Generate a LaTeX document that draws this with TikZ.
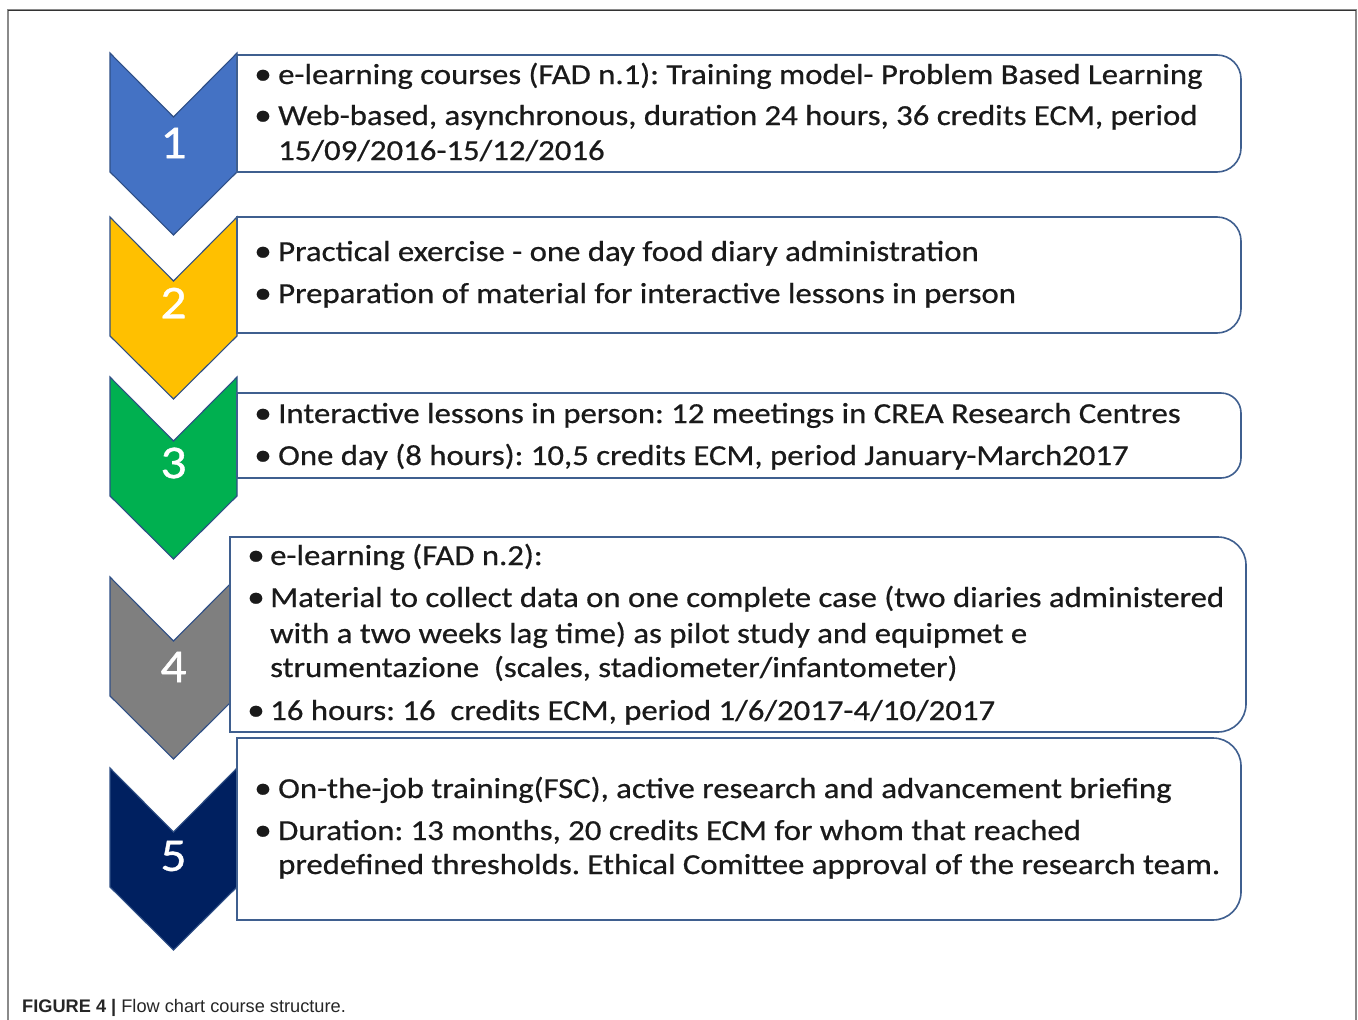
\documentclass[tikz,border=0pt]{standalone}
\usepackage{fontspec}
\setmainfont{Carlito}
\newfontfamily\bodyfont[FakeStretch=1.13,FakeBold=0.6]{Carlito}
\newfontfamily\numfont[FakeStretch=1.1,FakeBold=0.8]{Carlito}
\newfontfamily\capfont{Liberation Sans}
\frenchspacing
\begin{document}
\begin{tikzpicture}[x=1pt,y=-1pt,
  chev/.style={draw=chevedge,line width=1.1pt,line join=miter},
  panel/.style={draw=paneledge,line width=1.6pt,fill=white},
  num/.style={text=white,font=\numfont\fontsize{47}{47}\selectfont,inner sep=0pt,anchor=center},
  bl/.style={text=txt,font=\bodyfont\fontsize{29}{29}\selectfont,inner sep=0pt,anchor=base west},
  dot/.style={text=txt,font=\bodyfont\fontsize{31}{31}\selectfont,inner sep=0pt,anchor=base}]
\definecolor{chevedge}{HTML}{2F4F86}
\definecolor{paneledge}{HTML}{3F5F8F}
\definecolor{txt}{HTML}{1A1A1A}
\definecolor{cblue}{HTML}{4472C4}
\definecolor{cgold}{HTML}{FFC000}
\definecolor{cgreen}{HTML}{00B050}
\definecolor{cgray}{HTML}{7F7F7F}
\definecolor{cnavy}{HTML}{002060}
\definecolor{framegray}{HTML}{8A8A8A}

\useasboundingbox (0,0) rectangle (1358,1020);
\fill[white] (0,0) rectangle (1358,1020);

% outer frame (open at the bottom)
\draw[framegray,line width=2pt] (8,1020) -- (8,10) -- (1356,10) -- (1356,1020);
\draw[black!80,line width=1pt] (8,10) -- (1356,10);

% chevrons: top y given, 127 wide, 119 high sides, 45-degree notch and tip
\newcommand{\chevron}[2]{%
  \draw[chev,fill=#2] (110,#1) -- (173.5,#1+64) -- (237,#1) -- (237,#1+119)
    -- (173.5,#1+182) -- (110,#1+119) -- cycle;}
% panels: left x, top y, right x, bottom y, corner radius (right side only)
\newcommand{\panelbox}[5]{%
  \draw[panel] (#1,#4) -- (#1,#2) -- (#3-#5,#2)
    arc[start angle=-90,end angle=0,radius=#5] -- (#3,#4-#5)
    arc[start angle=0,end angle=90,radius=#5] -- cycle;}

\chevron{53}{cblue}
\panelbox{237}{55}{1241}{172}{24}
\chevron{217}{cgold}
\panelbox{237}{217}{1241}{333}{24}
\chevron{377}{cgreen}
\panelbox{237}{393}{1241}{478}{20}
\chevron{577}{cgray}
\panelbox{230}{537}{1246}{732}{28}
\chevron{768}{cnavy}
\panelbox{237}{738}{1241}{920}{28}

% step numbers
\node[num] (n1) at (173.5,143) {1};
\node[num] (n2) at (173.5,303) {2};
\node[num] (n3) at (173.5,463) {3};
\node[num] (n4) at (173.5,667) {4};
\node[num] (n5) at (173.5,856) {5};

% panel 1
\node[dot] (d11) at (263,84) {•};
\node[bl] (t11) at (278,84) {e-learning courses (FAD n.1): Training model- Problem Based Learning};
\node[dot] (d12) at (263,125) {•};
\node[bl] (t12) at (278,125) {Web-based, asynchronous, duration 24 hours, 36 credits ECM, period};
\node[bl] (t13) at (278,160) {15/09/2016-15/12/2016};

% panel 2
\node[dot] (d21) at (263,261) {•};
\node[bl] (t21) at (278,261) {Practical exercise - one day food diary administration};
\node[dot] (d22) at (263,303) {•};
\node[bl] (t22) at (278,303) {Preparation of material for interactive lessons in person};

% panel 3
\node[dot] (d31) at (263,423) {•};
\node[bl] (t31) at (278,423) {Interactive lessons in person: 12 meetings in CREA Research Centres};
\node[dot] (d32) at (263,465) {•};
\node[bl] (t32) at (278,465) {One day (8 hours): 10,5 credits ECM, period January-March2017};

% panel 4
\node[dot] (d41) at (256,565) {•};
\node[bl] (t41) at (270,565) {e-learning (FAD n.2):};
\node[dot] (d42) at (256,607) {•};
\node[bl] (t42) at (270,607) {Material to collect data on one complete case (two diaries administered};
\node[bl] (t43) at (270,643) {with a two weeks lag time) as pilot study and equipmet e};
\node[bl] (t44) at (270,677) {strumentazione~ (scales, stadiometer/infantometer)};
\node[dot] (d45) at (256,720) {•};
\node[bl] (t45) at (270,720) {16 hours: 16~ credits ECM, period 1/6/2017-4/10/2017};

% panel 5
\node[dot] (d51) at (263,798) {•};
\node[bl] (t51) at (278,798) {On-the-job training(FSC), active research and advancement briefing};
\node[dot] (d52) at (263,840) {•};
\node[bl] (t52) at (278,840) {Duration: 13 months, 20 credits ECM for whom that reached};
\node[bl] (t53) at (278,874) {predefined thresholds. Ethical Comittee approval of the research team.};

% caption
\node[inner sep=0pt,anchor=base west,text=black!85,font=\capfont\fontsize{18.2}{18.2}\selectfont] (cap) at (22,1012.5)
  {\textbf{FIGURE 4 |} Flow chart course structure.};
\end{tikzpicture}
\end{document}
